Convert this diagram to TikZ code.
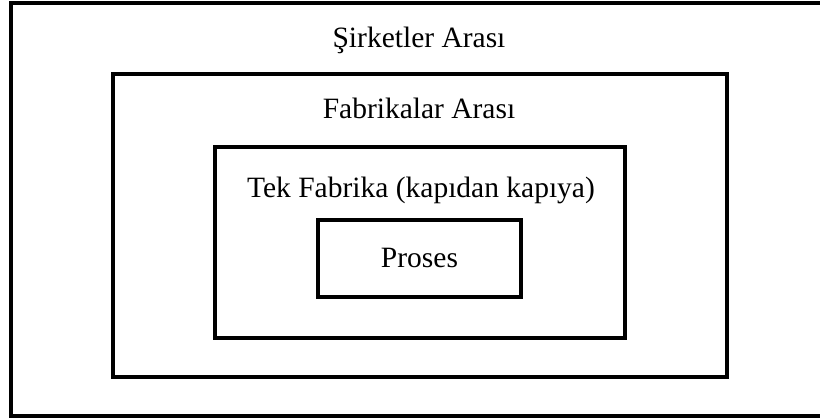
\documentclass[tikz,border=0pt]{standalone}
\usepackage{fontspec}
\setmainfont{Liberation Serif}
\begin{document}
\begin{tikzpicture}[x=1pt,y=-1pt,
  frame/.style={draw=black,line width=4pt},
  lbl/.style={anchor=base,inner sep=0pt,font=\fontsize{29.5}{34}\selectfont}]
\useasboundingbox (0,0) rectangle (820,418);
\clip (0,0) rectangle (820,418);
\draw[frame] (11,3) rectangle (829,416);
\draw[frame] (113,74) rectangle (727,377);
\draw[frame] (215,147) rectangle (625,338);
\draw[frame] (318,220) rectangle (521,297);
\node[lbl] (t1) at (419,47) {Şirketler Arası};
\node[lbl] (t2) at (419,118) {Fabrikalar Arası};
\node[lbl] (t3) at (421,197) {Tek Fabrika (kapıdan kapıya)};
\node[lbl] (t4) at (419.5,267) {Proses};
\end{tikzpicture}
\end{document}
